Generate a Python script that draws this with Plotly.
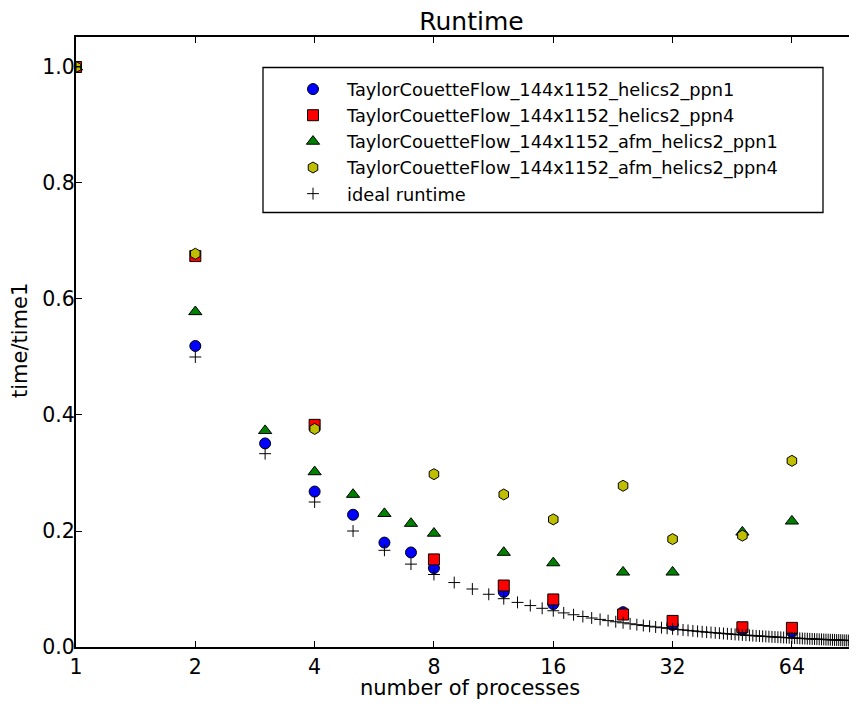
import plotly.graph_objects as go

# ---- data ----
procs_ppn1 = [1, 2, 3, 4, 5, 6, 7, 8, 12, 16, 24, 32, 48, 64, 96]
time_helics2_ppn1 = [1.0, 0.519, 0.351, 0.268, 0.228, 0.180, 0.163, 0.136, 0.095, 0.074, 0.060, 0.038, 0.030, 0.026, 0.017]

procs_ppn4 = [1, 2, 4, 8, 12, 16, 24, 32, 48, 64, 96]
time_helics2_ppn4 = [1.0, 0.674, 0.383, 0.151, 0.106, 0.082, 0.056, 0.045, 0.034, 0.033, 0.019]

procs_afm_ppn1 = [1, 2, 3, 4, 5, 6, 7, 8, 12, 16, 24, 32, 48, 64, 96]
time_afm_ppn1 = [1.0, 0.578, 0.373, 0.302, 0.263, 0.230, 0.213, 0.196, 0.163, 0.145, 0.129, 0.129, 0.198, 0.217, 0.215]

procs_afm_ppn4 = [1, 2, 4, 8, 12, 16, 24, 32, 48, 64]
time_afm_ppn4 = [1.0, 0.678, 0.376, 0.298, 0.263, 0.220, 0.278, 0.186, 0.192, 0.321]

ideal_procs = list(range(1, 97))
ideal_time = [1.0, 0.5, 0.3333, 0.25, 0.2, 0.1667, 0.1429, 0.125, 0.1111, 0.1,
              0.0909, 0.0833, 0.0769, 0.0714, 0.0667, 0.0625, 0.0588, 0.0556, 0.0526, 0.05,
              0.0476, 0.0455, 0.0435, 0.0417, 0.04, 0.0385, 0.037, 0.0357, 0.0345, 0.0333,
              0.0323, 0.0313, 0.0303, 0.0294, 0.0286, 0.0278, 0.027, 0.0263, 0.0256, 0.025,
              0.0244, 0.0238, 0.0233, 0.0227, 0.0222, 0.0217, 0.0213, 0.0208, 0.0204, 0.02,
              0.0196, 0.0192, 0.0189, 0.0185, 0.0182, 0.0179, 0.0175, 0.0172, 0.0169, 0.0167,
              0.0164, 0.0161, 0.0159, 0.0156, 0.0154, 0.0152, 0.0149, 0.0147, 0.0145, 0.0143,
              0.0141, 0.0139, 0.0137, 0.0135, 0.0133, 0.0132, 0.013, 0.0128, 0.0127, 0.0125,
              0.0123, 0.0122, 0.012, 0.0119, 0.0118, 0.0116, 0.0115, 0.0114, 0.0112, 0.0111,
              0.011, 0.0109, 0.0108, 0.0106, 0.0105, 0.0104]

x_tickvals = [1, 2, 4, 8, 16, 32, 64]
x_ticktext = ["1", "2", "4", "8", "16", "32", "64"]
y_tickvals = [0.0, 0.2, 0.4, 0.6, 0.8, 1.0]
y_ticktext = ["0.0", "0.2", "0.4", "0.6", "0.8", "1.0"]

names = [
    "TaylorCouetteFlow_144x1152_helics2_ppn1",
    "TaylorCouetteFlow_144x1152_helics2_ppn4",
    "TaylorCouetteFlow_144x1152_afm_helics2_ppn1",
    "TaylorCouetteFlow_144x1152_afm_helics2_ppn4",
    "ideal runtime",
]

FONT = "DejaVu Sans"
OFF = 8                      # default page body margin
PAGE_W, PAGE_H = 857, 704
W, H = PAGE_W - OFF, PAGE_H - OFF
# plot area in page pixels
L, R_EDGE, T, B = 76, 857, 37, 647
PW, PH = R_EDGE - L, B - T

def px(xp):
    return (xp - L) / PW

def py(yp):
    return (B - yp) / PH

fig = go.Figure()
edge = dict(color="black", width=1)
fig.add_trace(go.Scatter(x=procs_ppn1, y=time_helics2_ppn1, mode="markers", name=names[0],
                         legendgroup="a",
                         marker=dict(symbol="circle", size=11, color="#0000ff", line=edge)))
fig.add_trace(go.Scatter(x=procs_ppn4, y=time_helics2_ppn4, mode="markers", name=names[1],
                         legendgroup="b",
                         marker=dict(symbol="square", size=11, color="#ff0000", line=edge)))
fig.add_trace(go.Scatter(x=procs_afm_ppn1, y=time_afm_ppn1, mode="markers", name=names[2],
                         legendgroup="c",
                         marker=dict(symbol="triangle-up", size=11.5, color="#008000", line=edge)))
fig.add_trace(go.Scatter(x=procs_afm_ppn4, y=time_afm_ppn4, mode="markers", name=names[3],
                         legendgroup="d",
                         marker=dict(symbol="hexagon", size=11, color="#bfbf00", line=edge)))
fig.add_trace(go.Scatter(x=ideal_procs, y=ideal_time, mode="markers", name=names[4],
                         legendgroup="e",
                         marker=dict(symbol="cross-thin", size=8.5, color="black",
                                     line=dict(color="black", width=1))))

# short inward tick marks along the (cropped) right spine
right_ticks = [dict(type="line", xref="paper", yref="y", x0=px(853), x1=1.0, y0=v, y1=v,
                    line=dict(color="black", width=1), layer="above") for v in y_tickvals]

fig.update_layout(
    width=W, height=H,
    margin=dict(l=L - OFF, r=0, t=T - OFF, b=PAGE_H - B, pad=0),
    paper_bgcolor="white", plot_bgcolor="white",
    font=dict(family=FONT, size=21, color="black"),
    showlegend=True,
    title=dict(text="Runtime", font=dict(family=FONT, size=25, color="black"),
               xref="container", x=(471.5 - OFF) / W, xanchor="center",
               yref="container", y=1 - (21 - OFF) / H, yanchor="middle"),
    xaxis=dict(type="log", range=[0, 1.9704], tickvals=x_tickvals, ticktext=x_ticktext,
               showgrid=False, zeroline=False, showline=True, linecolor="black", linewidth=2,
               mirror="ticks", ticks="inside", ticklen=6, tickwidth=1, tickcolor="black",
               tickfont=dict(family=FONT, size=20.5, color="black")),
    yaxis=dict(range=[0, 1.0517], tickvals=y_tickvals, ticktext=y_ticktext,
               showgrid=False, zeroline=False, showline=True, linecolor="black", linewidth=2,
               ticks="inside", ticklen=6, tickwidth=1, tickcolor="black",
               ticklabelstandoff=-5,
               tickfont=dict(family=FONT, size=20.5, color="black")),
    legend=dict(xref="paper", yref="paper", x=px(279), y=py(71), xanchor="left", yanchor="top",
                bgcolor="rgba(0,0,0,0)", borderwidth=0,
                font=dict(family=FONT, size=17.8, color="black"),
                tracegroupgap=0, itemwidth=58),
    shapes=[dict(type="rect", xref="paper", yref="paper",
                 x0=px(263), x1=px(823), y0=py(212.5), y1=py(67.5),
                 line=dict(color="black", width=1.3), fillcolor="rgba(0,0,0,0)", layer="above")]
           + right_ticks,
    annotations=[
        dict(text="number of processes", xref="paper", yref="paper", x=px(470), y=py(688),
             xanchor="center", yanchor="middle", showarrow=False,
             font=dict(family=FONT, size=21, color="black")),
        dict(text="time/time1", xref="paper", yref="paper", x=px(20), y=py(341),
             xanchor="center", yanchor="middle", showarrow=False, textangle=-90,
             font=dict(family=FONT, size=21, color="black")),
    ],
)

fig.write_html("out.html")
